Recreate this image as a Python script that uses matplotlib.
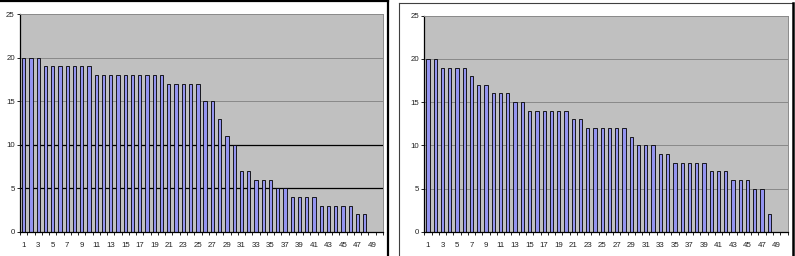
import numpy as np
import matplotlib
matplotlib.use('Agg')
import matplotlib.pyplot as plt
from matplotlib.lines import Line2D

## Data
categories = list(range(1, 51))
left_vals = [20, 20, 20, 19, 19, 19, 19, 19, 19, 19,
             18, 18, 18, 18, 18, 18, 18, 18, 18, 18,
             17, 17, 17, 17, 17, 15, 15, 13, 11, 10,
             7, 7, 6, 6, 6, 5, 5, 4, 4, 4,
             4, 3, 3, 3, 3, 3, 2, 2]
right_vals = [20, 20, 19, 19, 19, 19, 18, 17, 17, 16,
              16, 16, 15, 15, 14, 14, 14, 14, 14, 14,
              13, 13, 12, 12, 12, 12, 12, 12, 11, 10,
              10, 10, 9, 9, 8, 8, 8, 8, 8, 7,
              7, 7, 6, 6, 6, 5, 5, 2]
y_ticks = [0, 5, 10, 15, 20, 25]
x_labels = [str(c) if c % 2 == 1 else '' for c in categories]

plt.rcParams['font.family'] = ['Liberation Sans', 'DejaVu Sans']

W, H = 795, 256
fig = plt.figure(figsize=(W / 100, H / 100), dpi=100)


def px_axes(x0, y0, x1, y1):
    # pixel box (top-left origin) -> figure axes
    return fig.add_axes([x0 / W, (H - y1) / H, (x1 - x0) / W, (y1 - y0) / H])


def draw_chart(ax, vals, black_lines):
    ax.set_facecolor('#c0c0c0')
    n = len(categories)
    ax.set_xlim(-0.5, n - 0.5)
    ax.set_ylim(0, 25)
    for yv in y_ticks[1:-1]:
        if yv in black_lines:
            ax.axhline(yv, color='black', lw=0.9, zorder=1)
        else:
            ax.axhline(yv, color='#808080', lw=0.6, zorder=1)
    xs = np.arange(len(vals))
    ax.bar(xs, vals, width=0.45, color='#9494f0', edgecolor='black',
           linewidth=0.6, zorder=2)
    # category labels at centres, tick marks at boundaries
    ax.set_xticks(np.arange(n))
    ax.set_xticklabels(x_labels, fontsize=5.7, color='#222222')
    ax.tick_params(axis='x', which='major', length=0, pad=7.5)
    ax.set_xticks(np.arange(n + 1) - 0.5, minor=True)
    ax.tick_params(axis='x', which='minor', length=2.2, width=0.6,
                   direction='out')
    ax.set_yticks(y_ticks)
    ax.set_yticklabels([str(v) for v in y_ticks], fontsize=5.7, color='#222222')
    ax.tick_params(axis='y', length=2.2, width=0.6, pad=1.5)
    for s in ['top', 'right']:
        ax.spines[s].set_color('#8a8a8a')
        ax.spines[s].set_linewidth(0.7)
    for s in ['left', 'bottom']:
        ax.spines[s].set_color('black')
        ax.spines[s].set_linewidth(0.9)


ax1 = px_axes(20, 14.3, 383, 231.7)
draw_chart(ax1, left_vals, black_lines=[5, 10])

ax2 = px_axes(424.3, 15.7, 787.5, 231.7)
draw_chart(ax2, right_vals, black_lines=[])


def fig_line(xs, ys, **kw):
    fig.add_artist(Line2D([x / W for x in xs], [(H - y) / H for y in ys],
                          transform=fig.transFigure, **kw))


# panel frames
fig_line([0, 387.7], [1, 1], color='black', lw=1.6)
fig_line([387.7, 387.7], [1, 256], color='black', lw=1.6)
fig_line([399.3, 399.3], [2.7, 256], color='#404040', lw=0.8)
fig_line([399.3, 792.5], [2.7, 2.7], color='#404040', lw=0.8)
fig_line([792.5, 792.5], [2.7, 256], color='black', lw=1.8)

fig.savefig('out.png', dpi=100)
